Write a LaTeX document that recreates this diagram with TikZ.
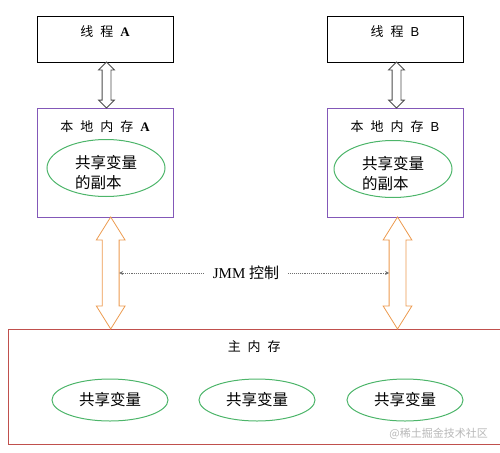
\documentclass[tikz,border=0pt]{standalone}
\usepackage{fontspec}
\setmainfont{Liberation Serif}
\newfontfamily\cjk{Noto Sans CJK SC}
\newfontfamily\lsans{Liberation Sans}
\usetikzlibrary{positioning,calc,shapes.geometric,shapes.arrows,arrows.meta}
\definecolor{memPurple}{HTML}{8358B8}
\definecolor{varGreen}{HTML}{4DB56A}
\definecolor{busOrange}{HTML}{EC9A4E}
\definecolor{mainRed}{HTML}{C0504D}
\definecolor{ctlGray}{HTML}{6F6F6F}
\newcommand{\gapw}{\hspace{7pt}}

\begin{document}
\begin{tikzpicture}[
  x=1pt, y=-1pt,
  box/.style={
    rectangle, draw=#1, line width=0.9pt,
    inner sep=0pt, outer sep=0pt
  },
  thread/.style={box=black, minimum width=136pt, minimum height=46pt},
  localmem/.style={box=memPurple, minimum width=136pt, minimum height=109pt},
  mainmem/.style={box=mainRed, minimum width=492.5pt, minimum height=115pt},
  title/.style={font=\fontsize{13}{15}\selectfont, inner sep=0pt},
  var/.style={
    ellipse, draw=varGreen, line width=1pt, inner sep=0pt,
    font=\cjk\fontsize{15.5}{20}\selectfont, align=left
  },
  vartext/.style={font=\cjk\fontsize{15.5}{20}\selectfont, align=left, inner sep=0pt},
  link/.style={
    double arrow, draw=#1, line width=0.8pt, outer sep=0pt,
    shape border rotate=90, double arrow head indent=0pt
  },
  graylink/.style={link=black!70, inner sep=4pt, minimum height=46pt,
    double arrow head extend=3.5pt},
  buslink/.style={link=busOrange, inner sep=8pt, minimum height=112pt,
    double arrow head extend=6pt, double arrow tip angle=64},
  ctl/.style={ctlGray, densely dotted, line width=0.9pt,
    -{Stealth[length=4pt,width=4pt]}},
]
\useasboundingbox (0,0) rectangle (500,452);

% === Threads ===
\node[thread] (thrA) at (105,39) {};
\node[thread, right=154pt of thrA] (thrB) {};
\node[title, below=9pt of thrA.north] (tA) {{\cjk 线}\gapw{\cjk 程}\gapw\textbf{A}};
\node[title, below=9pt of thrB.north] (tB) {{\cjk 线}\gapw{\cjk 程}\gapw{\lsans B}};

% === Local memories ===
\node[localmem, below=46pt of thrA] (locA) {};
\node[localmem, below=46pt of thrB] (locB) {};
\node[title, below=12pt of locA.north] (lA)
  {{\cjk 本}\gapw{\cjk 地}\gapw{\cjk 内}\gapw{\cjk 存}\gapw\textbf{A}};
\node[title, below=12pt of locB.north] (lB)
  {{\cjk 本}\gapw{\cjk 地}\gapw{\cjk 内}\gapw{\cjk 存}\gapw{\lsans B}};
\node[var, minimum width=118pt, minimum height=57pt] (cpA) at (106,168) {};
\node[var, minimum width=118pt, minimum height=57pt] (cpB) at (393,169) {};
\node[vartext] (cpAtext) at ([yshift=-5pt]cpA) {共享变量\\的副本};
\node[vartext] (cpBtext) at ([yshift=-5pt]cpB) {共享变量\\的副本};

% === Main memory ===
\node[mainmem] (mem) at (254.25,386.5) {};
\node[title, below=11pt of mem.north] (mt)
  {{\cjk 主}\gapw{\cjk 内}\gapw{\cjk 存}};
\node[var, minimum width=116pt, minimum height=42pt] (v1) at (110,400) {共享变量};
\node[var, minimum width=116pt, minimum height=42pt] (v2) at (257,400) {共享变量};
\node[var, minimum width=116pt, minimum height=42pt] (v3) at (405,400) {共享变量};

% === Links ===
\node[graylink, xshift=1.5pt] (lnkA) at ($(thrA.south)!0.5!(locA.north)$) {};
\node[graylink, xshift=1.5pt] (lnkB) at ($(thrB.south)!0.5!(locB.north)$) {};
\node[buslink, xshift=5.7pt] (busA) at ($(locA.south)!0.5!(locA.south |- mem.north)$) {};
\node[buslink, xshift=2.5pt] (busB) at ($(locB.south)!0.5!(locB.south |- mem.north)$) {};

% === JMM control ===
\node[font=\fontsize{15}{18}\selectfont, inner xsep=9pt] (jmm) at (246,273) {JMM {\cjk 控制}};
\draw[ctl] (jmm) -- (busA);
\draw[ctl] (jmm) -- (busB);

\node[anchor=east, text=black!28, font=\cjk\fontsize{11}{13}\selectfont, inner sep=0pt]
  (wm) at (488,434) {@稀土掘金技术社区};
\end{tikzpicture}
\end{document}
